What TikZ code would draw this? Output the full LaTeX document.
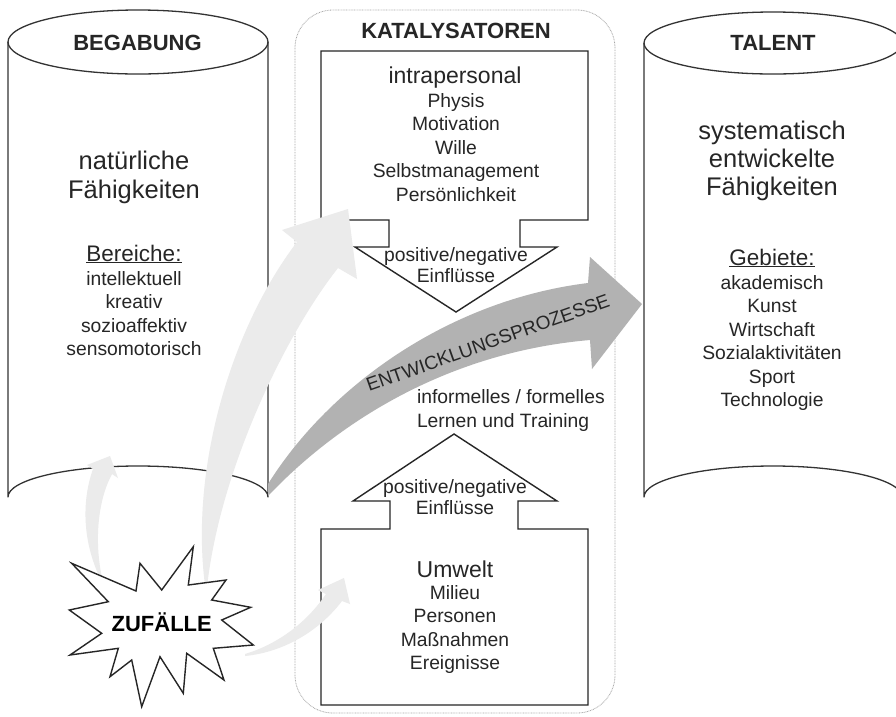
\documentclass[tikz,border=0pt]{standalone}
\usepackage{fontspec}
\setmainfont{Liberation Sans}
\newcommand\mybig{\fontsize{25.5}{30}\selectfont}
\newcommand\mymid{\fontsize{23}{27}\selectfont}
\newcommand\myhead{\fontsize{22.5}{27}\selectfont}
\newcommand\mysmall{\fontsize{19.3}{23}\selectfont}
\newcommand\mytitle{\fontsize{22}{26}\selectfont\bfseries}
\newcommand\myent{\fontsize{19}{22}\selectfont}
\tikzset{
  tx/.style={anchor=base, inner sep=0pt, outer sep=0pt, text=black!85},
  cyl/.style={draw=black!80, line width=1.3pt, line join=round},
  boxline/.style={draw=black!85, line width=1.4pt, line join=miter, fill=white},
  frameline/.style={draw=black!35, line width=0.8pt, dash pattern=on 0.8pt off 0.8pt, rounded corners=38pt},
  lightarrow/.style={fill=black!8, draw=none},
  darkarrow/.style={fill=black!30, draw=none}
}
\begin{document}
\begin{tikzpicture}[x=1pt,y=-1pt]
\useasboundingbox (0,0) rectangle (896,716);
\fill[white] (0,0) rectangle (896,716);

% Katalysatoren frame
\draw[frameline] (295,10) rectangle (615,713);

% left cylinder
\draw[cyl, fill=white] (8,42) -- (8,497) arc[start angle=180,end angle=360,x radius=130,y radius=31] -- (268,42);
\draw[cyl] (138,42) ellipse[x radius=130,y radius=32];
% right cylinder
\draw[cyl, fill=white] (644,43) -- (644,497) arc[start angle=180,end angle=360,x radius=129,y radius=31] -- (902,43);
\draw[cyl] (773,43) ellipse[x radius=129,y radius=31];

% upper (intrapersonal) box with down arrow
\draw[boxline] (321,51) -- (588,51) -- (588,220) -- (520,220) -- (520,247) -- (557,247)
  -- (456,312) -- (355,247) -- (389,247) -- (389,220) -- (321,220) -- cycle;
% lower (Umwelt) box with up arrow
\draw[boxline] (321,705) -- (588,705) -- (588,529) -- (518,529) -- (518,501) -- (557,501)
  -- (454,434) -- (353,501) -- (390,501) -- (390,529) -- (321,529) -- cycle;

% texts left cylinder
\node[tx, font=\mytitle] (bgt) at (137.5,50) {BEGABUNG};
\node[tx, font=\mybig] (bg1) at (134,169) {natürliche};
\node[tx, font=\mybig] (bg2) at (134,198) {Fähigkeiten};
\node[tx, font=\myhead] (bg3) at (134,261) {\underline{Bereiche:}};
\node[tx, font=\mysmall] (bg4) at (134,285) {intellektuell};
\node[tx, font=\mysmall] (bg5) at (134,308.5) {kreativ};
\node[tx, font=\mysmall] (bg6) at (134,332) {sozioaffektiv};
\node[tx, font=\mysmall] (bg7) at (134,355.5) {sensomotorisch};

% texts right cylinder
\node[tx, font=\mytitle] (tat) at (773,50) {TALENT};
\node[tx, font=\mybig] (ta1) at (772,139) {systematisch};
\node[tx, font=\mybig] (ta2) at (772,167) {entwickelte};
\node[tx, font=\mybig] (ta3) at (772,195) {Fähigkeiten};
\node[tx, font=\myhead] (ta4) at (772,265) {\underline{Gebiete:}};
\node[tx, font=\mysmall] (ta5) at (772,289) {akademisch};
\node[tx, font=\mysmall] (ta6) at (772,312.5) {Kunst};
\node[tx, font=\mysmall] (ta7) at (772,336) {Wirtschaft};
\node[tx, font=\mysmall] (ta8) at (772,359.5) {Sozialaktivitäten};
\node[tx, font=\mysmall] (ta9) at (772,383) {Sport};
\node[tx, font=\mysmall] (ta10) at (772,406.5) {Technologie};

% middle texts
\node[tx, font=\mytitle] (kat) at (456,38) {KATALYSATOREN};
\node[tx, font=\mymid] (ip0) at (455,83) {intrapersonal};
\node[tx, font=\mysmall] (ip1) at (456,107) {Physis};
\node[tx, font=\mysmall] (ip2) at (456,130.5) {Motivation};
\node[tx, font=\mysmall] (ip3) at (456,154) {Wille};
\node[tx, font=\mysmall] (ip4) at (456,177.5) {Selbstmanagement};
\node[tx, font=\mysmall] (ip5) at (456,201) {Persönlichkeit};
\node[tx, font=\mysmall] (ein1a) at (456,261) {positive/negative};
\node[tx, font=\mysmall] (ein1b) at (456,282) {Einflüsse};
\node[tx, font=\mysmall, anchor=base west] (ler1) at (417,403) {informelles / formelles};
\node[tx, font=\mysmall, anchor=base west] (ler2) at (417,427) {Lernen und Training};
\node[tx, font=\mysmall] (ein2a) at (455,493) {positive/negative};
\node[tx, font=\mysmall] (ein2b) at (455,514) {Einflüsse};
\node[tx, font=\mymid] (um0) at (455,577) {Umwelt};
\node[tx, font=\mysmall] (um1) at (455,599) {Milieu};
\node[tx, font=\mysmall] (um2) at (455,622.5) {Personen};
\node[tx, font=\mysmall] (um3) at (455,646) {Maßnahmen};
\node[tx, font=\mysmall] (um4) at (455,669.5) {Ereignisse};

% light arrows from ZUFAELLE
\fill[lightarrow] (205,585) .. controls (190,470) and (230,330) .. (297,242)
  -- (282,230) -- (348,209) -- (357,279) -- (338,268)
  .. controls (285,335) and (220,470) .. (207,587) -- cycle;
\fill[lightarrow] (100,578) .. controls (82,540) and (82,500) .. (93,469)
  -- (87,465) -- (110,456) -- (118,478) -- (112,474)
  .. controls (98,500) and (94,540) .. (102,578) -- cycle;
\fill[lightarrow] (245,654) .. controls (275,645) and (305,625) .. (326,594)
  -- (318,590) -- (344,578) -- (350,604) -- (342,601)
  .. controls (320,630) and (285,652) .. (245,656) -- cycle;

% dark arrow Entwicklungsprozesse
\fill[darkarrow] (268,484) .. controls (330,385) and (450,300) .. (588,283)
  -- (590,257) -- (642,304) -- (592,369) -- (590,340)
  .. controls (450,352) and (340,420) .. (268,496) -- cycle;
\node[tx, font=\myent, rotate=19.5] (ent) at (490,349) {ENTWICKLUNGSPROZESSE};

% star
\draw[boxline] (71.7,563.3) -- (136,591) -- (140,563.3) -- (161.7,590) -- (193.3,546.7)
  -- (188.3,585) -- (226,580) -- (211.7,600) -- (250.7,607.3) -- (221.7,620)
  -- (253.3,645) -- (213.3,648.3) -- (224,680) -- (186.7,653.3) -- (183.3,693.3)
  -- (160,656.7) -- (141.7,706.7) -- (131.7,660) -- (110,676.7) -- (118.3,648.3)
  -- (70,655) -- (101.7,633.3) -- (69.3,610) -- (108.3,601.7) -- cycle;
\node[tx, font=\mytitle, text=black] (zuf) at (161.7,631) {ZUFÄLLE};
\end{tikzpicture}
\end{document}
